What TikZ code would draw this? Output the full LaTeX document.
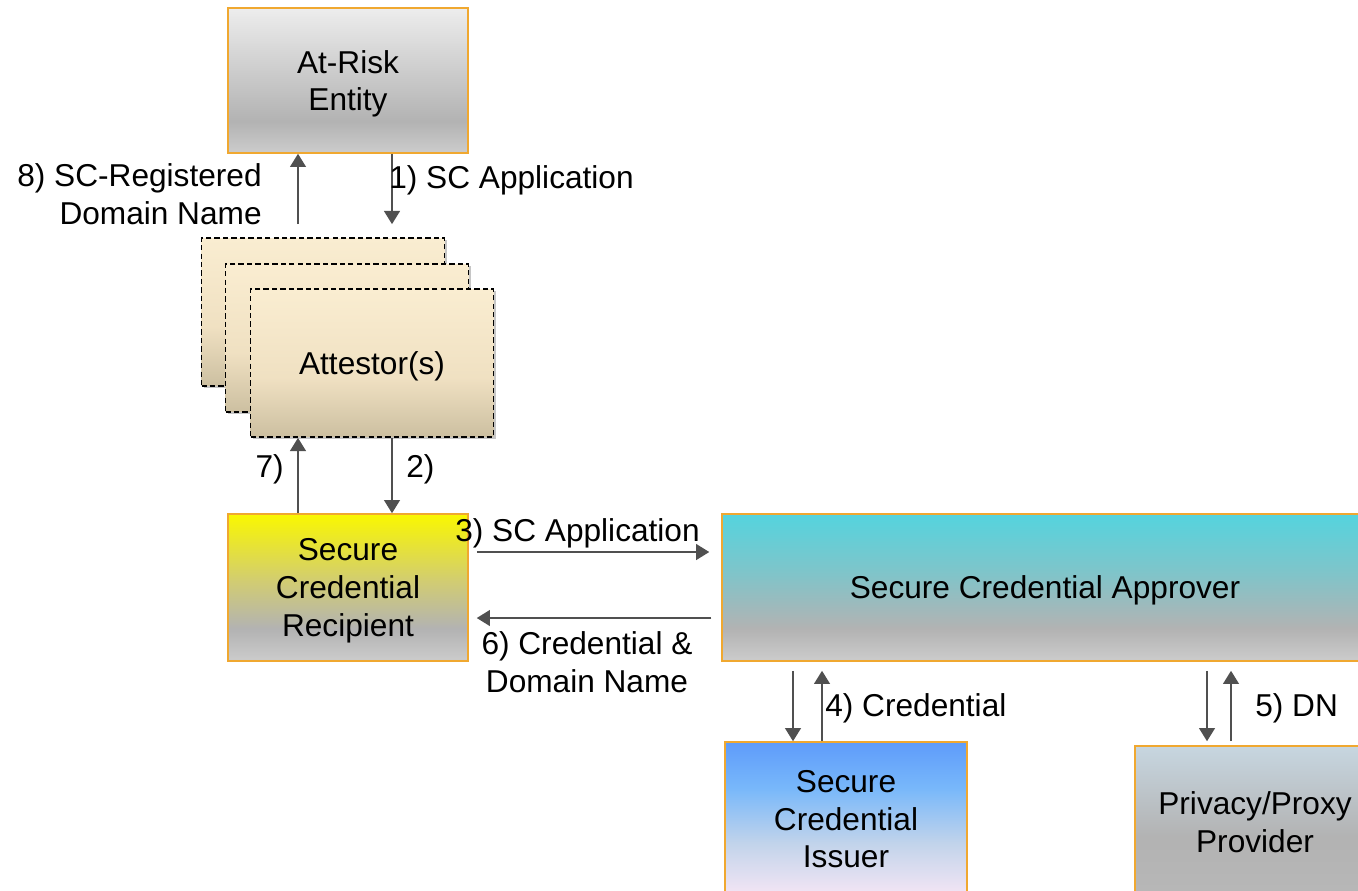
\documentclass[tikz,border=0pt]{standalone}
\usepackage{fontspec}
\setmainfont{Liberation Sans}
\usetikzlibrary{arrows.meta,shadows}

\definecolor{boxline}{RGB}{240,168,48}
\definecolor{arrowgrey}{RGB}{80,80,80}

% vertical fills, bottom first
\pgfdeclareverticalshading{riskfill}{100bp}{rgb(0bp)=(.80,.80,.80); rgb(25bp)=(.80,.80,.80); rgb(36bp)=(.70,.70,.70); rgb(75bp)=(.93,.93,.93); rgb(100bp)=(.93,.93,.93)}
\pgfdeclareverticalshading{attfill}{100bp}{rgb(0bp)=(.80,.75,.63); rgb(25bp)=(.80,.75,.63); rgb(45bp)=(.94,.88,.76); rgb(75bp)=(.98,.93,.82); rgb(100bp)=(.98,.93,.82)}
\pgfdeclareverticalshading{rcptfill}{100bp}{rgb(0bp)=(.80,.80,.80); rgb(25bp)=(.80,.80,.80); rgb(36bp)=(.70,.70,.70); rgb(52bp)=(.82,.80,.45); rgb(75bp)=(.98,.97,0); rgb(100bp)=(.98,.97,0)}
\pgfdeclareverticalshading{apprfill}{100bp}{rgb(0bp)=(.80,.80,.80); rgb(25bp)=(.80,.80,.80); rgb(36bp)=(.70,.70,.70); rgb(55bp)=(.50,.77,.79); rgb(75bp)=(.33,.83,.87); rgb(100bp)=(.33,.83,.87)}
\pgfdeclareverticalshading{issuerfill}{100bp}{rgb(0bp)=(.96,.90,.96); rgb(25bp)=(.96,.90,.96); rgb(42bp)=(.76,.83,.92); rgb(60bp)=(.47,.72,.98); rgb(75bp)=(.37,.61,.98); rgb(100bp)=(.37,.61,.98)}
\pgfdeclareverticalshading{privfill}{100bp}{rgb(0bp)=(.72,.72,.72); rgb(25bp)=(.72,.72,.72); rgb(45bp)=(.70,.70,.70); rgb(75bp)=(.78,.84,.88); rgb(100bp)=(.78,.84,.88)}

\begin{document}
\begin{tikzpicture}[x=0.02cm,y=-0.02cm]
  \tikzstyle{actor}=[draw=boxline,line width=0.9pt,inner sep=0pt,align=center,text depth=0pt,font=\fontsize{18}{21.5}\selectfont]
  \tikzstyle{lower}=[text depth=-2.5pt]
  \tikzstyle{attestor}=[draw=black,line width=1pt,dash pattern=on 3pt off 1.8pt,shading=attfill,
    drop shadow={shadow xshift=1.2pt,shadow yshift=-1.2pt,opacity=.45},
    minimum width=4.86cm,minimum height=2.96cm,inner sep=0pt,text depth=-4pt,font=\fontsize{18}{21.5}\selectfont]
  \tikzstyle{note}=[inner sep=0pt,text depth=0pt,font=\fontsize{18}{21.5}\selectfont]
  \tikzstyle{flow}=[draw=arrowgrey,line width=1pt,-{Triangle[length=7.5pt,width=9pt]}]
  \useasboundingbox (0,0) rectangle (1358,890);
  \clip (0,0) rectangle (1358,890);

  \node[actor,lower,shading=riskfill,minimum width=4.8cm,minimum height=2.9cm] (risk) at (348,80.5) {At-Risk\\Entity};
  \node[attestor] (att1) at (323,312) {};
  \node[attestor] (att2) at (347,338) {};
  \node[attestor] (att3) at (372,363) {Attestor(s)};
  \node[actor,lower,shading=rcptfill,minimum width=4.8cm,minimum height=2.94cm] (rcpt) at (348,587.5) {Secure\\Credential\\Recipient};
  \node[actor,lower,shading=apprfill,minimum width=12.92cm,minimum height=2.94cm] (appr) at (1045,587.5) {Secure Credential Approver};
  \node[actor,shading=issuerfill,minimum width=4.84cm,minimum height=3.08cm] (issuer) at (846,819) {Secure\\Credential\\Issuer};
  \node[actor,shading=privfill,minimum width=4.8cm,minimum height=3.04cm] (priv) at (1255,822) {Privacy/Proxy\\Provider};

  \coordinate (xL) at (298,0);
  \coordinate (xR) at (392,0);
  \coordinate (yA) at (0,552);
  \coordinate (yB) at (0,618);
  \coordinate (x4d) at (793,0);
  \coordinate (x4u) at (822,0);
  \coordinate (x5d) at (1207,0);
  \coordinate (x5u) at (1231,0);

  \draw[flow,shorten >=0.26cm] (risk.south -| xR) -- (att1.north -| xR);
  \draw[flow,shorten <=0.26cm] (att1.north -| xL) -- (risk.south -| xL);
  \draw[flow] (att3.south -| xR) -- (rcpt.north -| xR);
  \draw[flow] (rcpt.north -| xL) -- (att3.south -| xL);
  \draw[flow,shorten <=0.16cm,shorten >=0.24cm] (rcpt.east |- yA) -- (appr.west |- yA);
  \draw[flow,shorten <=0.2cm,shorten >=0.16cm] (appr.west |- yB) -- (rcpt.east |- yB);
  \draw[flow,shorten <=0.18cm] (appr.south -| x4d) -- (issuer.north -| x4d);
  \draw[flow,shorten >=0.18cm] (issuer.north -| x4u) -- (appr.south -| x4u);
  \draw[flow,shorten <=0.18cm,shorten >=0.08cm] (appr.south -| x5d) -- (priv.north -| x5d);
  \draw[flow,shorten <=0.08cm,shorten >=0.18cm] (priv.north -| x5u) -- (appr.south -| x5u);

  \node[note,anchor=east,align=right] (l8) at (262,194) {8) SC-Registered\\Domain Name};
  \node[note,anchor=west] (l1) at (389,177) {1) SC Application};
  \node[note,anchor=east] (l7) at (284,466) {7)};
  \node[note,anchor=west] (l2) at (406,466) {2)};
  \node[note,anchor=west] (l3) at (455,530) {3) SC Application};
  \node[note,align=center] (l6) at (587,662) {6) Credential \&\\Domain Name};
  \node[note,anchor=west] (l4) at (825,705) {4) Credential};
  \node[note,anchor=west] (l5) at (1255,705) {5) DN};
\end{tikzpicture}
\end{document}
